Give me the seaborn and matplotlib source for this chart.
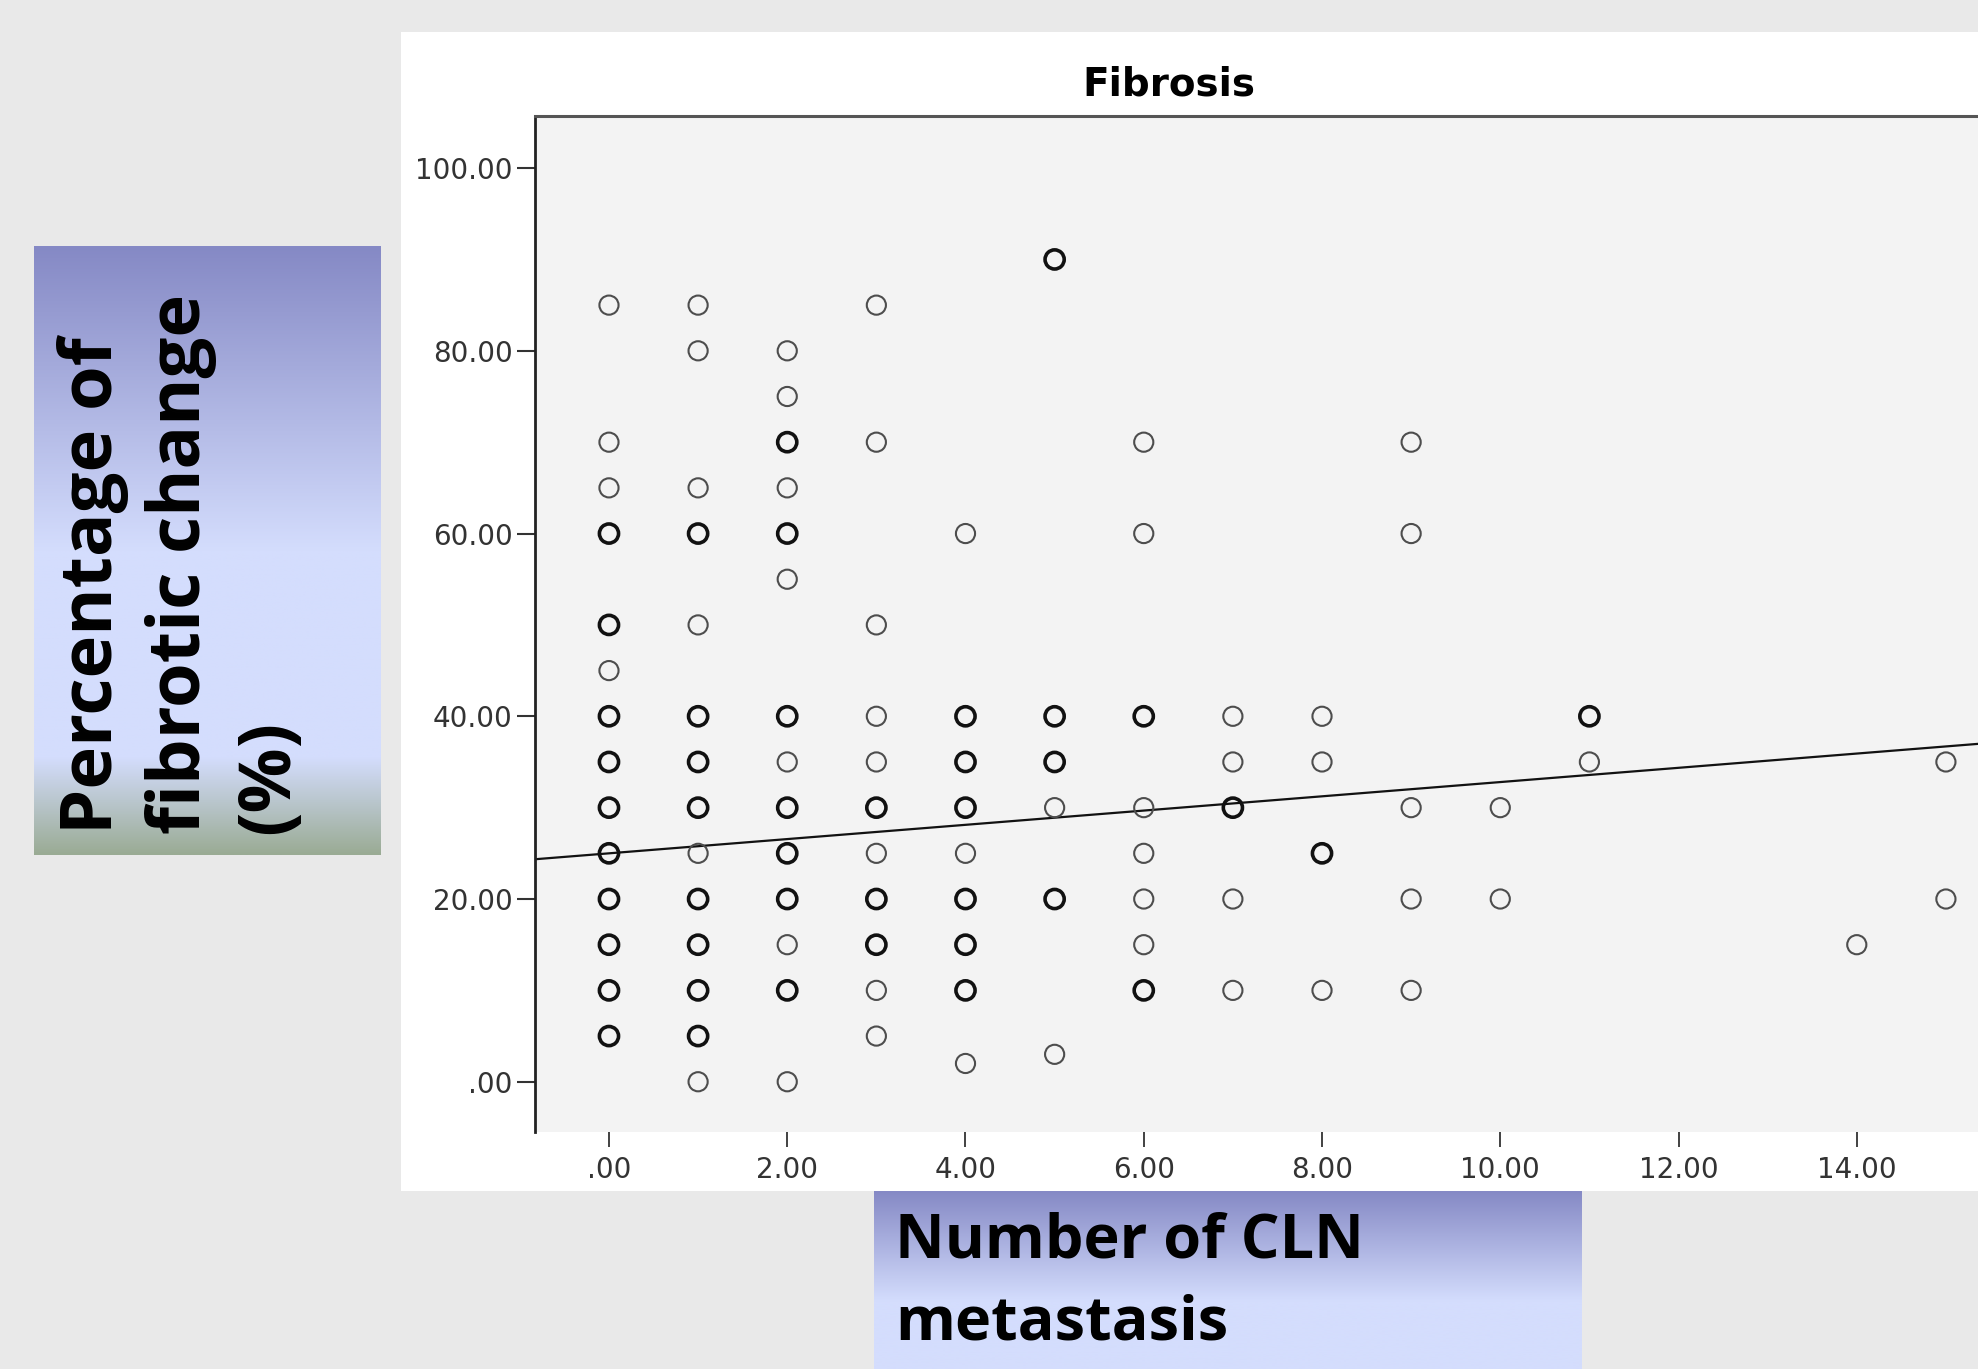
"""Scatter of fibrotic change vs number of CLN metastasis (SPSS-style screenshot)."""

import matplotlib

matplotlib.use("Agg")
import matplotlib.pyplot as plt
import numpy as np
import pandas as pd
import seaborn as sns
from matplotlib.patches import Rectangle

# --- data ---------------------------------------------------------------------
# one entry per visible circle; overlap = 2 where the circle is drawn heavier
cln_count = (
    [0, 0, 0, 0, 0, 0, 0, 0, 0, 0, 0, 0, 0, 0]
    + [1, 1, 1, 1, 1, 1, 1, 1, 1, 1, 1, 1, 1, 1]
    + [2, 2, 2, 2, 2, 2, 2, 2, 2, 2, 2, 2, 2, 2]
    + [3, 3, 3, 3, 3, 3, 3, 3, 3, 3, 3]
    + [4, 4, 4, 4, 4, 4, 4, 4, 4]
    + [5, 5, 5, 5, 5, 5]
    + [6, 6, 6, 6, 6, 6, 6, 6]
    + [7, 7, 7, 7, 7]
    + [8, 8, 8, 8]
    + [9, 9, 9, 9, 9]
    + [10, 10]
    + [11, 11]
    + [14]
    + [15, 15]
)
fibrosis_pct = (
    [85, 70, 65, 60, 50, 45, 40, 35, 30, 25, 20, 15, 10, 5]
    + [85, 80, 65, 60, 50, 40, 35, 30, 25, 20, 15, 10, 5, 0]
    + [80, 75, 70, 65, 60, 55, 40, 35, 30, 25, 20, 15, 10, 0]
    + [85, 70, 50, 40, 35, 30, 25, 20, 15, 10, 5]
    + [60, 40, 35, 30, 25, 20, 15, 10, 2]
    + [90, 40, 35, 30, 20, 3]
    + [70, 60, 40, 30, 25, 20, 15, 10]
    + [40, 35, 30, 20, 10]
    + [40, 35, 25, 10]
    + [70, 60, 30, 20, 10]
    + [30, 20]
    + [40, 35]
    + [15]
    + [35, 20]
)
overlap = (
    [1, 1, 1, 2, 2, 1, 2, 2, 2, 2, 2, 2, 2, 2]
    + [1, 1, 1, 2, 1, 2, 2, 2, 1, 2, 2, 2, 2, 1]
    + [1, 1, 2, 1, 2, 1, 2, 1, 2, 2, 2, 1, 2, 1]
    + [1, 1, 1, 1, 1, 2, 1, 2, 2, 1, 1]
    + [1, 2, 2, 2, 1, 2, 2, 2, 1]
    + [2, 2, 2, 1, 2, 1]
    + [1, 1, 2, 1, 1, 1, 1, 2]
    + [1, 1, 2, 1, 1]
    + [1, 1, 2, 1]
    + [1, 1, 1, 1, 1]
    + [1, 1]
    + [2, 1]
    + [1]
    + [1, 1]
)

# fit line (total)
fit_intercept = 25.0
fit_slope = 0.78

x_ticks = [0, 2, 4, 6, 8, 10, 12, 14]
x_tick_labels = [".00", "2.00", "4.00", "6.00", "8.00", "10.00", "12.00", "14.00"]
y_ticks = [0, 20, 40, 60, 80, 100]
y_tick_labels = [".00", "20.00", "40.00", "60.00", "80.00", "100.00"]

df = pd.DataFrame({"cln": cln_count, "fibrosis": fibrosis_pct, "overlap": overlap})

# --- figure -------------------------------------------------------------------
sns.set_style("white")
plt.rcParams["font.family"] = ["DejaVu Sans"]
plt.rcParams["text.color"] = "black"

W, H = 1978, 1369
fig = plt.figure(figsize=(W / 100, H / 100), dpi=100, facecolor="#e9e9e9")

# white chart panel behind the axes
fig.patches.append(
    Rectangle((401 / W, 1 - 1191 / H), 1 - 401 / W, (1191 - 32) / H,
              transform=fig.transFigure, facecolor="white", edgecolor="none", zorder=-1)
)

ax = fig.add_axes([535 / W, 1 - 1132 / H, 1 - 535 / W, (1132 - 116) / H])
ax.set_facecolor("#f3f3f3")

single = df[df["overlap"] == 1]
heavy = df[df["overlap"] > 1]
sns.scatterplot(data=single, x="cln", y="fibrosis", ax=ax, marker="o", s=190,
                facecolor="none", edgecolor="#4d4d4d", linewidth=1.5, zorder=3)
sns.scatterplot(data=heavy, x="cln", y="fibrosis", ax=ax, marker="o", s=190,
                facecolor="none", edgecolor="#111111", linewidth=2.6, zorder=3)

ax.axline((0, fit_intercept), slope=fit_slope, color="#111111", linewidth=1.6, zorder=2)

ax.set_xlim(-0.83, 15.36)
ax.set_ylim(-5.5, 105.7)
ax.set_xticks(x_ticks)
ax.set_xticklabels(x_tick_labels)
ax.set_yticks(y_ticks)
ax.set_yticklabels(y_tick_labels)
ax.set_xlabel("")
ax.set_ylabel("")

ax.tick_params(axis="x", direction="out", length=11, width=1.3, color="#333333",
               pad=6, labelsize=20, labelcolor="#333333", bottom=True)
ax.tick_params(axis="y", direction="out", length=13, width=1.5, color="#333333",
               pad=3, labelsize=20, labelcolor="#333333", left=True)

for side in ["bottom", "right"]:
    ax.spines[side].set_visible(False)
ax.spines["left"].set_color("#222222")
ax.spines["left"].set_linewidth(2)
ax.spines["top"].set_color("#555555")
ax.spines["top"].set_linewidth(2.2)

fig.text(1169 / W, 1 - 85 / H, "Fibrosis", fontsize=28, fontweight="bold",
         ha="center", va="center", color="black")


def gradient_box(rect, pos, colors):
    """Axes filled with a vertical colour gradient (pos 0 = top)."""
    box = fig.add_axes(rect)
    t = np.linspace(0, 1, 400)
    rgb = np.array([matplotlib.colors.to_rgb(c) for c in colors])
    arr = np.stack([np.interp(t, pos, rgb[:, i]) for i in range(3)], axis=-1)
    box.imshow(arr[:, None, :], aspect="auto", extent=[0, 1, 0, 1], origin="upper")
    box.set_axis_off()
    return box


label_font = ["Open Sans", "DejaVu Sans"]

# y-axis title box
ybox = gradient_box([34 / W, 1 - 855 / H, (381 - 34) / W, (855 - 246) / H],
                    [0, 0.5, 0.84, 1], ["#8589c5", "#d4ddfd", "#d4ddfd", "#9aab94"])
ybox.text(0.065, 0.035, "Percentage of\nfibrotic change\n(%)", rotation=90,
          ha="left", va="bottom", fontsize=52, fontweight="bold", color="black",
          family=label_font, transform=ybox.transAxes, linespacing=1.3)

# x-axis title box
xbox = gradient_box([874 / W, 0, (1582 - 874) / W, 178 / H],
                    [0, 0.62, 1], ["#8589c5", "#d4ddfd", "#d4ddfd"])
xbox.text(0.03, 0.885, "Number of CLN\nmetastasis", ha="left", va="top",
          fontsize=44, fontweight="bold", color="black", family=label_font,
          transform=xbox.transAxes, linespacing=1.45)

fig.savefig("out.png", dpi=100, facecolor=fig.get_facecolor())
